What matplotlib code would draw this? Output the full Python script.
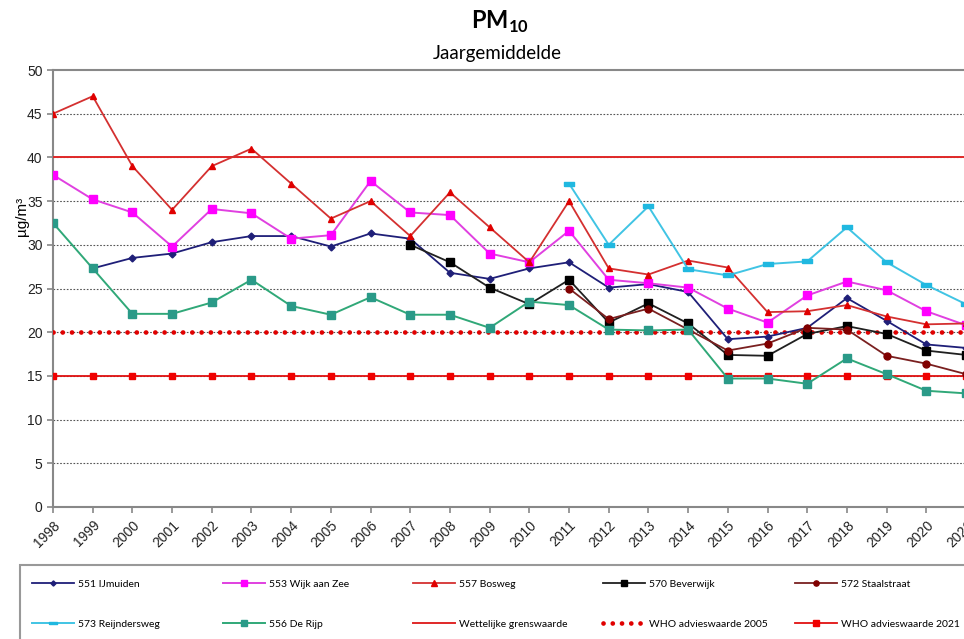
import numpy as np
import matplotlib
matplotlib.use("Agg")
import matplotlib.pyplot as plt
from matplotlib.patches import Rectangle

plt.rcParams['font.family'] = ['Liberation Sans', 'DejaVu Sans']
plt.rcParams['mathtext.fontset'] = 'custom'
plt.rcParams['mathtext.rm'] = 'Lato'
plt.rcParams['mathtext.bf'] = 'Lato:bold'

years = list(range(1998, 2022))
nan = np.nan

ijmuiden = [nan, 27.3, 28.5, 29.0, 30.3, 31.0, 31.0, 29.8, 31.3, 30.7, 26.8, 26.1,
            27.3, 28.0, 25.1, 25.5, 24.6, 19.2, 19.5, 20.5, 23.9, 21.3, 18.6, 18.2]
wijk_aan_zee = [38.0, 35.2, 33.7, 29.8, 34.1, 33.6, 30.7, 31.1, 37.3, 33.7, 33.4, 29.0,
                28.0, 31.6, 26.0, 25.6, 25.1, 22.7, 21.1, 24.2, 25.8, 24.8, 22.4, 20.8]
bosweg = [45.0, 47.0, 39.0, 34.0, 39.0, 41.0, 37.0, 33.0, 35.0, 31.0, 36.0, 32.0,
          28.0, 35.0, 27.3, 26.6, 28.2, 27.4, 22.3, 22.4, 23.1, 21.8, 20.9, 21.0]
beverwijk = [nan] * 9 + [30.0, 28.0, 25.1, 23.2, 26.0, 21.1, 23.3, 21.0, 17.4, 17.3,
                         19.8, 20.7, 19.8, 17.9, 17.4]
staalstraat = [nan] * 13 + [25.0, 21.5, 22.7, 20.3, 17.9, 18.7, 20.5, 20.3, 17.3,
                            16.4, 15.2]
reijndersweg = [nan] * 13 + [37.0, 30.0, 34.4, 27.2, 26.5, 27.8, 28.1, 32.0, 28.0,
                             25.4, 23.2]
de_rijp = [32.5, 27.3, 22.1, 22.1, 23.4, 26.0, 23.0, 22.0, 24.0, 22.0, 22.0, 20.5,
           23.5, 23.1, 20.3, 20.2, 20.3, 14.7, 14.7, 14.1, 17.0, 15.2, 13.3, 13.0]
grenswaarde = [40] * len(years)
who_2005 = [20] * len(years)
who_2021 = [15] * len(years)

x = np.arange(len(years))

fig = plt.figure(figsize=(9.64, 6.39), dpi=100)
W, H = 964, 639
ax = fig.add_axes([53 / W, 1 - 507 / H, (966 - 53) / W, (507 - 70) / H])

# wide flat marker for Reijndersweg
bar_marker = [(-1, -0.4), (1, -0.4), (1, 0.4), (-1, 0.4), (-1, -0.4)]

series = [
    (ijmuiden, '551 IJmuiden', dict(color='#1f1f78', marker='D', ms=3.5, lw=1.3)),
    (wijk_aan_zee, '553 Wijk aan Zee', dict(color='#e040e0', marker='s', ms=5.5, lw=1.4,
                                            mfc='#ff00ff', mec='#ff00ff')),
    (bosweg, '557 Bosweg', dict(color='#d43030', marker='^', ms=5, lw=1.3,
                                mfc='#e00000', mec='#e00000')),
    (beverwijk, '570 Beverwijk', dict(color='#202020', marker='s', ms=5.5, lw=1.3,
                                      mfc='black', mec='black')),
    (staalstraat, '572 Staalstraat', dict(color='#7a2020', marker='o', ms=5, lw=1.3,
                                          mfc='#800000', mec='#800000')),
    (reijndersweg, '573 Reijndersweg', dict(color='#40c4e4', marker=bar_marker, ms=7,
                                            lw=1.4, mfc='#20b8e0', mec='#20b8e0')),
    (de_rijp, '556 De Rijp', dict(color='#30a878', marker='s', ms=5.5, lw=1.4,
                                  mfc='#2a9a88', mec='#2a9a88')),
]

for ref_y in range(5, 50, 5):
    ax.axhline(ref_y, color='#555555', lw=0.8, ls=(0, (1.5, 1.5)), zorder=1)

handles = {}
l, = ax.plot(x, grenswaarde, color='#e02828', lw=1.4, zorder=3)
handles['Wettelijke grenswaarde'] = l
l, = ax.plot(x, who_2005, color='#e00000', lw=3.4, ls=(0, (0.01, 1.95)),
             dash_capstyle='round', zorder=3)
handles['WHO advieswaarde 2005'] = l
l, = ax.plot(x, who_2021, color='#e01010', lw=1.3, marker='s', ms=5,
             mfc='#f00000', mec='#f00000', zorder=3)
handles['WHO advieswaarde 2021'] = l

for vals, name, style in series:
    l, = ax.plot(x, vals, zorder=4, **style)
    handles[name] = l

ax.set_xlim(0, len(years) - 1)
ax.set_ylim(0, 50)
ax.set_yticks(range(0, 51, 5))
ax.set_xticks(x)
ax.set_xticklabels([str(y) for y in years], rotation=45, ha='right',
                   rotation_mode='anchor', fontsize=10, color='#222222')
ax.tick_params(axis='y', labelsize=10, labelcolor='#222222', length=4,
               color='#888888', width=1.2)
ax.tick_params(axis='x', length=4, color='#888888', width=1.2, pad=4)
for side in ['left', 'bottom', 'top']:
    ax.spines[side].set_color('#888888')
    ax.spines[side].set_linewidth(1.5)
ax.spines['right'].set_visible(False)

fig.text(22 / W, 1 - 216 / H, 'µg/m³', rotation=90, ha='center', va='center',
         fontsize=11)
fig.text(500 / W, 1 - 22 / H, r'$\mathbf{PM}_{\mathbf{10}}$', ha='center',
         va='center', fontsize=17)
fig.text(497 / W, 1 - 53 / H, 'Jaargemiddelde', ha='center', va='center',
         fontsize=13.5, family='Lato')

# legend frame
fig.patches.append(Rectangle((20 / W, -0.05), 1.0, 1 - 565 / H + 0.05,
                             transform=fig.transFigure, fill=False,
                             edgecolor='#999999', lw=1.5))

columns = [
    (32, ['551 IJmuiden', '573 Reijndersweg']),
    (223, ['553 Wijk aan Zee', '556 De Rijp']),
    (413, ['557 Bosweg', 'Wettelijke grenswaarde']),
    (603, ['570 Beverwijk', 'WHO advieswaarde 2005']),
    (795, ['572 Staalstraat', 'WHO advieswaarde 2021']),
]
for xpos, names in columns:
    for row_y, name in zip([584, 624], names):
        fig.legend([handles[name]], [name], loc='center left',
                   bbox_to_anchor=(xpos / W, 1 - row_y / H),
                   frameon=False, borderpad=0, borderaxespad=0,
                   handlelength=4.0, handletextpad=0.4, markerscale=0.75,
                   prop={'family': 'Lato', 'size': 7.5})

fig.savefig('out.png', dpi=100)
